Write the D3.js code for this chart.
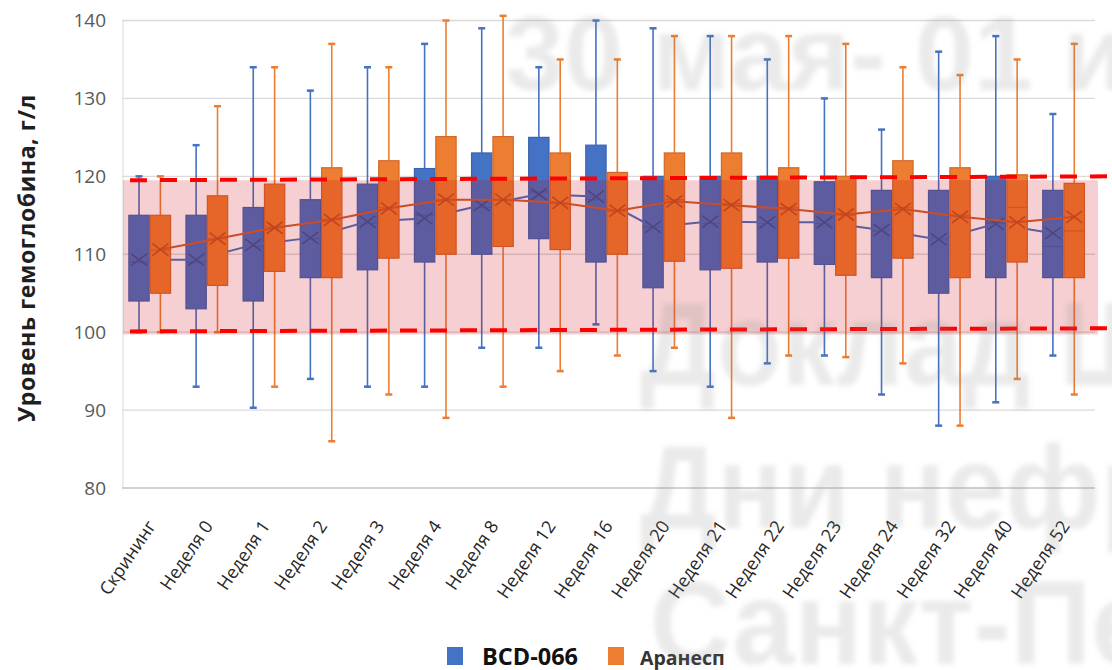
<!DOCTYPE html>
<html>
<head>
<meta charset="utf-8">
<title>Уровень гемоглобина</title>
<style>
  body { margin: 0; background: #fff; }
  svg { display: block; }
</style>
</head>
<body>
<div id="chart"></div>
<script src="https://d3js.org/d3.v7.min.js"></script>
<script>
(function(d3) {
  'use strict';

  var categories = ['Скрининг', 'Неделя 0', 'Неделя 1', 'Неделя 2', 'Неделя 3', 'Неделя 4',
    'Неделя 8', 'Неделя 12', 'Неделя 16', 'Неделя 20', 'Неделя 21', 'Неделя 22',
    'Неделя 23', 'Неделя 24', 'Неделя 32', 'Неделя 40', 'Неделя 52'];
  var seriesNames = ['BCD-066', 'Аранесп'];
  var yTicks = [80, 90, 100, 110, 120, 130, 140];

  // BCD-066
  var bcdMin  = [100, 93, 90.3, 94, 93, 93, 98, 98, 101, 95, 93, 96, 97, 92, 88, 91, 97];
  var bcdQ1   = [104, 103, 104, 107, 108, 109, 110, 112, 109, 105.7, 108, 109, 108.7, 107, 105, 107, 107];
  var bcdMed  = [109, 109, 111, 112, 114, 115, 116, 118, 117, 113.5, 114, 114, 114, 113, 112, 114, 111];
  var bcdQ3   = [115, 115, 116, 117, 119, 121, 123, 125, 124, 120, 120, 120, 119.3, 118.2, 118.2, 120, 118.2];
  var bcdMax  = [120, 124, 134, 131, 134, 137, 139, 134, 140, 139, 138, 135, 130, 126, 136, 138, 128];
  var bcdMean = [109.3, 109.3, 111.2, 112.1, 114.2, 114.6, 116.3, 117.7, 117.4, 113.5, 114.2, 114.1, 114.1, 113.1, 111.9, 113.9, 112.7];

  // Аранесп
  var araMin  = [100, 100, 93, 86, 92, 89, 93, 95, 97, 98, 89, 97, 96.8, 96, 88, 94, 92];
  var araQ1   = [105, 106, 107.8, 107, 109.5, 110, 111, 110.6, 110, 109.1, 108.2, 109.5, 107.3, 109.5, 107, 109, 107];
  var araMed  = [110.5, 112, 113.5, 114.5, 116, 117, 117, 116.5, 115.5, 117, 116.5, 116, 115, 116, 115, 116, 113];
  var araQ3   = [115, 117.5, 119, 121.1, 122, 125.1, 125.1, 123, 120.5, 123, 123, 121.1, 120, 122, 121.1, 120.2, 119.1];
  var araMax  = [120, 129, 134, 137, 134, 140, 140.6, 135, 135, 138, 138, 138, 137, 134, 133, 135, 137];
  var araMean = [110.6, 112, 113.4, 114.4, 115.9, 117, 117, 116.6, 115.6, 116.8, 116.3, 115.8, 115.1, 115.8, 114.8, 114.1, 114.8];

  // target range and dashed limits (start value, end value)
  var normBand = [99.7, 119.5];
  var limitLow = [100.1, 100.5];
  var limitHigh = [119.5, 120];

  var width = 1112, height = 670;
  var left = 122, right = 1093, top = 20.5, bottom = 488;

  var svg = d3.select('#chart').append('svg')
    .attr('width', width).attr('height', height);

  var defs = svg.append('defs');
  defs.append('filter').attr('id', 'blur')
    .append('feGaussianBlur').attr('stdDeviation', 2.5);
  defs.append('filter').attr('id', 'soft')
    .append('feGaussianBlur').attr('stdDeviation', 1.2);

  var x0 = d3.scaleBand().domain(categories).range([left, right]).padding(0);
  var bw = x0.bandwidth();
  var x1 = d3.scaleBand().domain(seriesNames).range([bw * 0.12, bw * 0.85]).paddingInner(0.05);
  var y = d3.scaleLinear().domain([80, 140]).range([bottom, top]);

  var series = [
    { name: seriesNames[0], fill: '#4472C4', stroke: '#3A63AE', line: '#4472C4', marker: '#34549A',
      min: bcdMin, q1: bcdQ1, med: bcdMed, q3: bcdQ3, max: bcdMax, mean: bcdMean },
    { name: seriesNames[1], fill: '#ED7D31', stroke: '#D0692A', line: '#CB5F2C', marker: '#BF5420',
      min: araMin, q1: araQ1, med: araMed, q3: araQ3, max: araMax, mean: araMean }
  ];

  // gridlines
  svg.append('g').selectAll('line')
    .data(yTicks.slice(1))
    .enter().append('line')
    .attr('x1', left).attr('x2', right + 2)
    .attr('y1', function(d) { return y(d); })
    .attr('y2', function(d) { return y(d); })
    .attr('stroke', '#DADADA').attr('stroke-width', 1.3);

  svg.append('line')
    .attr('x1', left + 1).attr('x2', left + 1)
    .attr('y1', y(140)).attr('y2', y(80))
    .attr('stroke', '#E2E2E2').attr('stroke-width', 1.3);

  // bottom axis with soft shadow
  svg.append('line')
    .attr('x1', left).attr('x2', right + 2)
    .attr('y1', y(80) + 3).attr('y2', y(80) + 3)
    .attr('stroke', '#CFCFCF').attr('stroke-width', 3)
    .attr('filter', 'url(#soft)');
  svg.append('line')
    .attr('x1', left).attr('x2', right + 2)
    .attr('y1', y(80)).attr('y2', y(80))
    .attr('stroke', '#C4C4C4').attr('stroke-width', 1.5);

  // y tick labels
  var yAxis = d3.axisLeft(y).tickValues(yTicks).tickSize(0).tickPadding(0);
  var ya = svg.append('g').attr('transform', 'translate(106,0)').call(yAxis);
  ya.select('.domain').remove();
  ya.selectAll('text')
    .attr('font-family', 'Open Sans, sans-serif')
    .attr('font-size', 19)
    .attr('fill', '#595959');

  // y axis title
  svg.append('text')
    .attr('transform', 'translate(35,258) rotate(-90)')
    .attr('text-anchor', 'middle')
    .attr('font-family', 'Open Sans, sans-serif')
    .attr('font-weight', 700)
    .attr('font-size', 23)
    .attr('letter-spacing', 0.6)
    .attr('fill', '#1F1F1F')
    .text('Уровень гемоглобина, г/л');

  // x labels
  svg.append('g').selectAll('text')
    .data(categories)
    .enter().append('text')
    .attr('transform', function(d) {
      return 'translate(' + (x0(d) + bw / 2 + 6) + ',526) rotate(-56)';
    })
    .attr('text-anchor', 'end')
    .attr('font-family', 'Open Sans, sans-serif')
    .attr('font-size', 18)
    .attr('fill', '#262626')
    .text(function(d) { return d; });

  // boxes
  var groups = svg.append('g').selectAll('g.series')
    .data(series)
    .enter().append('g').attr('class', 'series');

  groups.each(function(s) {
    var g = d3.select(this);
    var bx = x1.bandwidth();
    var rows = categories.map(function(c, i) {
      return { cat: c, min: s.min[i], q1: s.q1[i], med: s.med[i], q3: s.q3[i], max: s.max[i], mean: s.mean[i] };
    });
    var cx = function(d) { return x0(d.cat) + x1(s.name) + bx / 2; };

    var item = g.selectAll('g.box').data(rows).enter().append('g').attr('class', 'box');

    item.append('line')
      .attr('x1', cx).attr('x2', cx)
      .attr('y1', function(d) { return y(d.max); })
      .attr('y2', function(d) { return y(d.q3); })
      .attr('stroke', s.fill).attr('stroke-width', 1.6);
    item.append('line')
      .attr('x1', cx).attr('x2', cx)
      .attr('y1', function(d) { return y(d.q1); })
      .attr('y2', function(d) { return y(d.min); })
      .attr('stroke', s.fill).attr('stroke-width', 1.6);
    ['max', 'min'].forEach(function(k) {
      item.append('line')
        .attr('x1', function(d) { return cx(d) - 3.5; })
        .attr('x2', function(d) { return cx(d) + 3.5; })
        .attr('y1', function(d) { return y(d[k]); })
        .attr('y2', function(d) { return y(d[k]); })
        .attr('stroke', s.fill).attr('stroke-width', 2.5);
    });

    item.append('rect')
      .attr('x', function(d) { return x0(d.cat) + x1(s.name); })
      .attr('y', function(d) { return y(d.q3); })
      .attr('width', bx)
      .attr('height', function(d) { return y(d.q1) - y(d.q3); })
      .attr('fill', s.fill)
      .attr('stroke', s.stroke).attr('stroke-width', 1.2);

    item.append('line')
      .attr('x1', function(d) { return x0(d.cat) + x1(s.name); })
      .attr('x2', function(d) { return x0(d.cat) + x1(s.name) + bx; })
      .attr('y1', function(d) { return y(d.med); })
      .attr('y2', function(d) { return y(d.med); })
      .attr('stroke', s.stroke).attr('stroke-width', 1.2);

    // mean line + markers
    var meanLine = d3.line()
      .x(cx)
      .y(function(d) { return y(d.mean); });
    g.append('path')
      .datum(rows)
      .attr('d', meanLine)
      .attr('fill', 'none')
      .attr('stroke', s.line).attr('stroke-width', 2);

    g.selectAll('path.mark').data(rows).enter().append('path')
      .attr('class', 'mark')
      .attr('transform', function(d) { return 'translate(' + cx(d) + ',' + y(d.mean) + ')'; })
      .attr('d', 'M-8,-6L8,6M-8,6L8,-6')
      .attr('fill', 'none')
      .attr('stroke', s.marker).attr('stroke-width', 1.6);
  });

  // pink normal range overlay
  svg.append('rect')
    .attr('x', left + 1)
    .attr('y', y(normBand[1]))
    .attr('width', 1097 - left)
    .attr('height', y(normBand[0]) - y(normBand[1]))
    .attr('fill', 'rgb(204,0,10)')
    .attr('fill-opacity', 0.19);

  // red dashed limits
  [limitLow, limitHigh].forEach(function(l) {
    svg.append('line')
      .attr('x1', left + 8).attr('x2', width)
      .attr('y1', y(l[0])).attr('y2', y(l[1]))
      .attr('stroke', '#FF0000')
      .attr('stroke-width', 4)
      .attr('stroke-dasharray', '17,13');
  });

  // legend
  var legend = svg.append('g');
  legend.append('rect').attr('x', 447).attr('y', 647).attr('width', 16).attr('height', 18).attr('fill', '#4472C4');
  legend.append('text').attr('x', 482).attr('y', 665)
    .attr('font-family', 'Open Sans, sans-serif').attr('font-weight', 700).attr('font-size', 23.5)
    .attr('fill', '#111').text(seriesNames[0]);
  legend.append('rect').attr('x', 608).attr('y', 647).attr('width', 16).attr('height', 18).attr('fill', '#ED7D31');
  legend.append('text').attr('x', 640).attr('y', 665)
    .attr('font-family', 'Open Sans, sans-serif').attr('font-weight', 700).attr('font-size', 19.5)
    .attr('fill', '#333').text(seriesNames[1]);

  // watermark
  var wm = svg.append('g')
    .attr('font-family', 'Liberation Sans, Arial, sans-serif')
    .attr('font-weight', 700)
    .attr('fill', '#808080')
    .attr('fill-opacity', 0.17)
    .attr('filter', 'url(#blur)');
  wm.append('text').attr('transform', 'translate(505,90)').attr('font-size', 106).text('30 мая- 01 июня');
  wm.append('text').attr('transform', 'translate(640,385) scale(0.9,1)').attr('font-size', 118).text('Доклад Ш');
  wm.append('text').attr('transform', 'translate(640,528) scale(0.92,1)').attr('font-size', 118).text('Дни нефр');
  wm.append('text').attr('transform', 'translate(650,664) scale(0.95,1)').attr('font-size', 118).text('Санкт-Пет');

})(window.d3);
</script>
</body>
</html>
